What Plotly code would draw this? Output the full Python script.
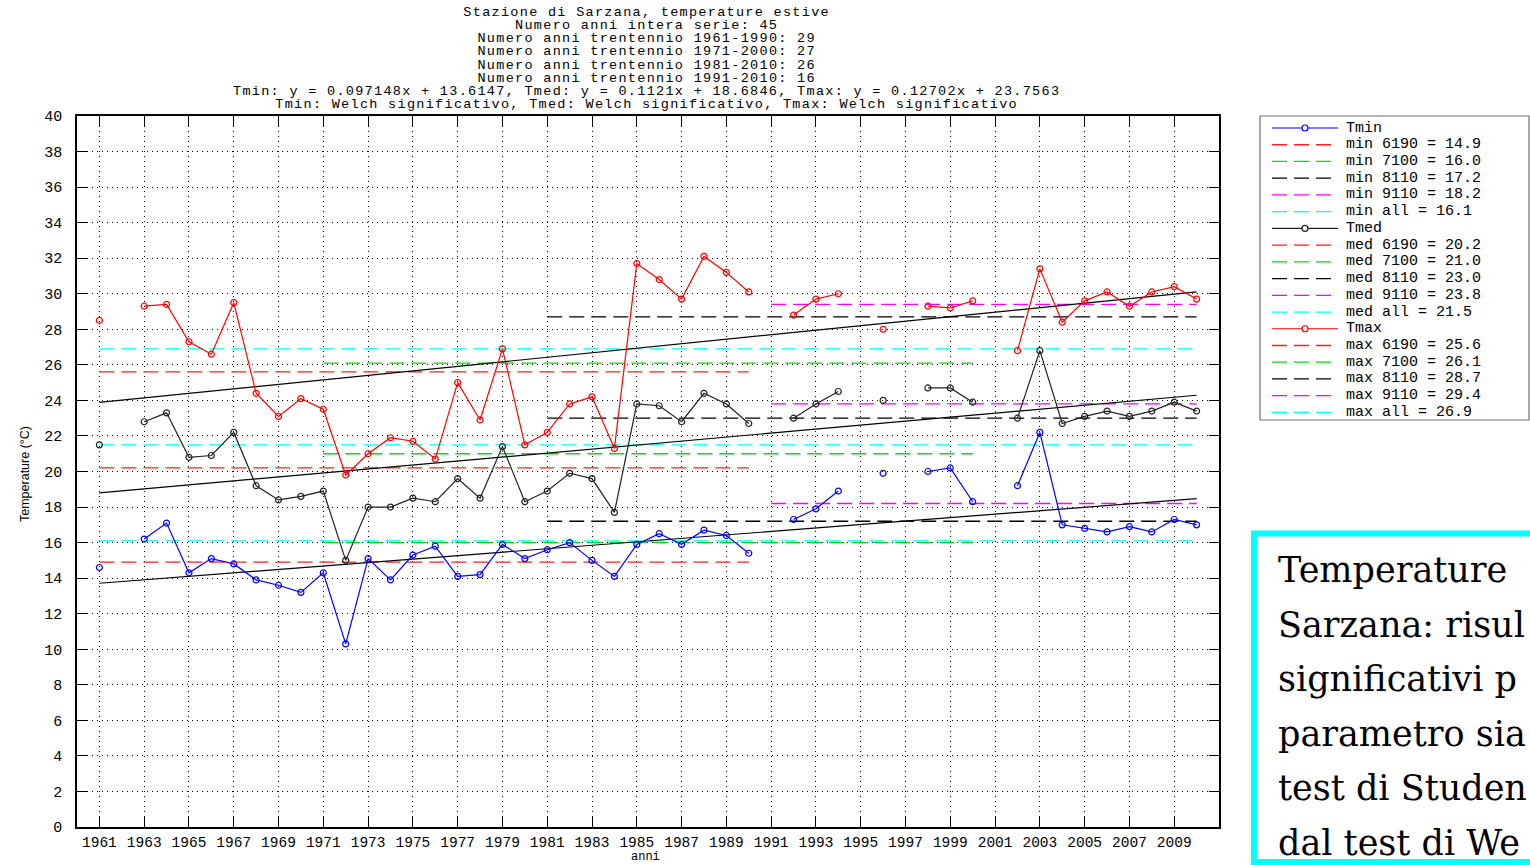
import plotly.graph_objects as go

# ---------------- data ----------------
years = list(range(1961, 2011))

tmin = [14.6, None, 16.2, 17.1, 14.3, 15.1, 14.8, 13.9, 13.6, 13.2,
        14.3, 10.3, 15.1, 13.9, 15.3, 15.8, 14.1, 14.2, 15.9, 15.1,
        15.6, 16.0, 15.0, 14.1, 15.9, 16.5, 15.9, 16.7, 16.4, 15.4,
        None, 17.3, 17.9, 18.9, None, 19.9, None, 20.0, 20.2, 18.3,
        None, 19.2, 22.2, 17.0, 16.8, 16.6, 16.9, 16.6, 17.3, 17.0]

tmed = [21.5, None, 22.8, 23.3, 20.8, 20.9, 22.2, 19.2, 18.4, 18.6,
        18.9, 15.0, 18.0, 18.0, 18.5, 18.3, 19.6, 18.5, 21.4, 18.3,
        18.9, 19.9, 19.6, 17.7, 23.8, 23.7, 22.8, 24.4, 23.8, 22.7,
        None, 23.0, 23.8, 24.5, None, 24.0, None, 24.7, 24.7, 23.9,
        None, 23.0, 26.8, 22.7, 23.1, 23.4, 23.1, 23.4, 23.9, 23.4]

tmax = [28.5, None, 29.3, 29.4, 27.3, 26.6, 29.5, 24.4, 23.1, 24.1,
        23.5, 19.8, 21.0, 21.9, 21.7, 20.7, 25.0, 22.9, 26.9, 21.5,
        22.2, 23.8, 24.2, 21.3, 31.7, 30.8, 29.7, 32.1, 31.2, 30.1,
        None, 28.8, 29.7, 30.0, None, 28.0, None, 29.3, 29.2, 29.6,
        None, 26.8, 31.4, 28.4, 29.6, 30.1, 29.3, 30.1, 30.4, 29.7]

series_names = ["Tmin", "Tmed", "Tmax"]
series_prefix = ["min", "med", "max"]
series_colors = ["#0000ff", "#202020", "#ff0000"]

period_labels = ["6190", "7100", "8110", "9110", "all"]
period_start = [1961, 1971, 1981, 1991, 1961]
period_end = [1990, 2000, 2010, 2010, 2010]
period_colors = ["#ff2020", "#00e000", "#000000", "#ff00ff", "#00ffff"]

mean_min = [14.9, 16.0, 17.2, 18.2, 16.1]
mean_med = [20.2, 21.0, 23.0, 23.8, 21.5]
mean_max = [25.6, 26.1, 28.7, 29.4, 26.9]

trend_slope = [0.097148, 0.1121, 0.12702]
trend_intercept = [13.6147, 18.6846, 23.7563]
trend_origin = 1960

x_ticks = list(range(1961, 2011, 2))
y_ticks = list(range(0, 41, 2))

title_lines = [
    "Stazione di Sarzana, temperature estive",
    "Numero anni intera serie: 45",
    "Numero anni trentennio 1961-1990: 29",
    "Numero anni trentennio 1971-2000: 27",
    "Numero anni trentennio 1981-2010: 26",
    "Numero anni trentennio 1991-2010: 16",
    "Tmin: y = 0.097148x + 13.6147, Tmed: y = 0.1121x + 18.6846, Tmax: y = 0.12702x + 23.7563",
    "Tmin: Welch significativo, Tmed: Welch significativo, Tmax: Welch significativo",
]

note_lines = [
    "Temperature",
    "Sarzana: risul",
    "significativi p",
    "parametro sia",
    "test di Studen",
    "dal test di We",
]

# ---------------- layout geometry ----------------
W, H = 1530, 865
L, R, T, B = 77, 1219, 116, 827
MONO = "Liberation Mono, DejaVu Sans Mono, monospace"
DASH = "15px,7px"


def px(x):
    return (x - L) / (R - L)


def py(y):
    return (B - y) / (B - T)


fig = go.Figure()

series_values = [tmin, tmed, tmax]
series_means = [mean_min, mean_med, mean_max]

# period mean lines
for s in range(3):
    for k in range(len(period_labels)):
        fig.add_trace(go.Scatter(
            x=[period_start[k], period_end[k]],
            y=[series_means[s][k], series_means[s][k]],
            mode="lines",
            line=dict(color=period_colors[k], width=1.3, dash=DASH),
            showlegend=False, hoverinfo="skip"))

# trend lines
for s in range(3):
    xs = [years[0], years[-1]]
    ys = [trend_intercept[s] + trend_slope[s] * (v - trend_origin) for v in xs]
    fig.add_trace(go.Scatter(
        x=xs, y=ys, mode="lines",
        line=dict(color="#000000", width=1.2),
        showlegend=False, hoverinfo="skip"))

# data series
for s in range(3):
    fig.add_trace(go.Scatter(
        x=years, y=series_values[s], mode="lines+markers",
        name=series_names[s],
        line=dict(color=series_colors[s], width=1.2),
        marker=dict(symbol="circle-open", size=6, color=series_colors[s],
                    line=dict(width=1.2, color=series_colors[s])),
        connectgaps=False, showlegend=False))

shapes = []
annotations = []

# title block: one multi-line text, line pitch 1.3 * 10.1px = 13.1px
title_html = "<br>".join(
    '<span style="font-size:13.5px;letter-spacing:1.3px">%s</span>' % t
    for t in title_lines)
annotations.append(dict(
    x=px(646), y=py(58), xref="paper", yref="paper",
    text=title_html, showarrow=False, xanchor="center", yanchor="middle",
    align="center",
    font=dict(family=MONO, size=10.1, color="#000000")))

# axis titles
annotations.append(dict(
    x=px(645), y=py(857), xref="paper", yref="paper", text="anni",
    showarrow=False, xanchor="center", yanchor="middle",
    font=dict(family=MONO, size=12, color="#000000")))
annotations.append(dict(
    x=px(25), y=py(474), xref="paper", yref="paper", text="Temperature (°C)",
    showarrow=False, xanchor="center", yanchor="middle", textangle=-90,
    font=dict(family="Liberation Sans Narrow, Liberation Sans, Arial", size=12.5,
              color="#000000")))

# legend (manual)
shapes.append(dict(type="rect", xref="paper", yref="paper",
                   x0=px(1260), x1=px(1529), y0=py(116), y1=py(420),
                   line=dict(color="#707070", width=1.2), fillcolor="white",
                   layer="above"))
row = 0
leg_y0, leg_dy = 128, 16.73
for s in range(3):
    yy = leg_y0 + row * leg_dy
    shapes.append(dict(type="line", xref="paper", yref="paper",
                       x0=px(1272), x1=px(1338), y0=py(yy), y1=py(yy),
                       line=dict(color=series_colors[s], width=1.2), layer="above"))
    shapes.append(dict(type="circle", xref="paper", yref="paper",
                       x0=px(1302), x1=px(1308), y0=py(yy + 3), y1=py(yy - 3),
                       line=dict(color=series_colors[s], width=1.2), fillcolor="white",
                       layer="above"))
    annotations.append(dict(x=px(1344), y=py(yy), xref="paper", yref="paper",
                            text=series_names[s], showarrow=False, xanchor="left",
                            yanchor="middle",
                            font=dict(family=MONO, size=15, color="#000000")))
    row += 1
    for k in range(len(period_labels)):
        yy = leg_y0 + row * leg_dy
        shapes.append(dict(type="line", xref="paper", yref="paper",
                           x0=px(1272), x1=px(1338), y0=py(yy), y1=py(yy),
                           line=dict(color=period_colors[k], width=1.3, dash=DASH),
                           layer="above"))
        label = "%s %s = %.1f" % (series_prefix[s], period_labels[k], series_means[s][k])
        annotations.append(dict(x=px(1344), y=py(yy), xref="paper", yref="paper",
                                text=label, showarrow=False, xanchor="left",
                                yanchor="middle",
                                font=dict(family=MONO, size=15, color="#000000")))
        row += 1

# note box
shapes.append(dict(type="rect", xref="paper", yref="paper",
                   x0=px(1254), x1=px(1545), y0=py(533.5), y1=py(862),
                   line=dict(color="#00ffff", width=6), fillcolor="white",
                   layer="above"))
note_y0, note_dy = 570, 54.5
for i, txt in enumerate(note_lines):
    annotations.append(dict(
        x=px(1276), y=py(note_y0 + i * note_dy), xref="paper", yref="paper",
        text=txt, showarrow=False, xanchor="left", yanchor="middle",
        font=dict(family="DejaVu Serif, Liberation Serif, serif", size=35,
                  color="#000000")))

axis_common = dict(
    showline=True, linecolor="#000000", linewidth=1.5, mirror="ticks",
    ticks="inside", ticklen=10, tickcolor="#000000", tickwidth=1.2,
    showgrid=True, gridcolor="#000000", gridwidth=1, griddash="1px,4px",
    zeroline=False,
)

fig.update_layout(
    width=W, height=H,
    margin=dict(l=L, r=W - R, t=T, b=H - B, pad=0),
    paper_bgcolor="white", plot_bgcolor="white",
    showlegend=False,
    xaxis=dict(range=[1960, 2011], tickmode="array", tickvals=x_ticks,
               ticktext=[str(v) for v in x_ticks], ticklabelstandoff=1,
               tickfont=dict(family=MONO, size=14.5, color="#000000"),
               **axis_common),
    yaxis=dict(range=[0, 40], tickmode="array", tickvals=y_ticks,
               ticktext=[str(v) for v in y_ticks], ticklabelstandoff=10,
               tickfont=dict(family=MONO, size=15, color="#000000"),
               **axis_common),
    shapes=shapes,
    annotations=annotations,
)

fig.write_html("out.html")
